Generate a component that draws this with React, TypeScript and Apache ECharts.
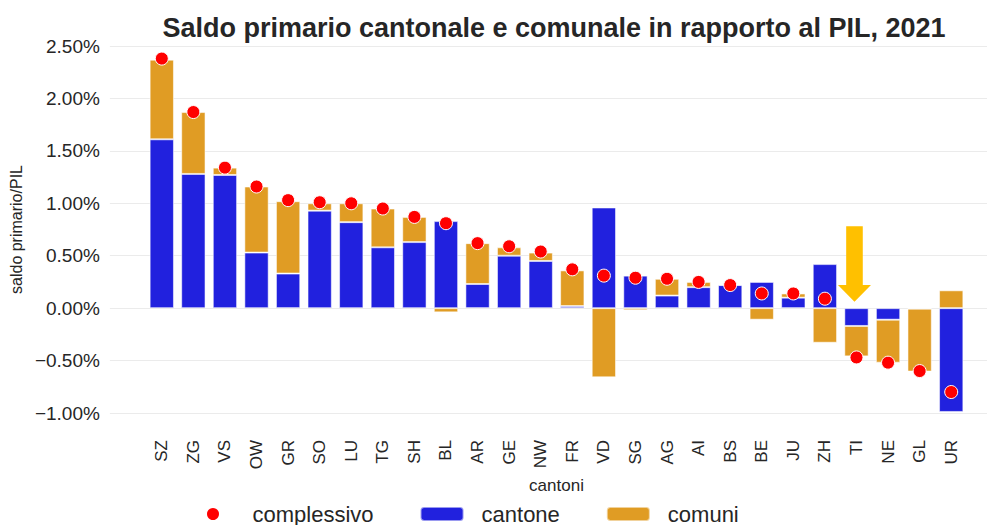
import React, { useEffect, useRef } from "react";
import * as echarts from "echarts";

const categories = ["SZ","ZG","VS","OW","GR","SO","LU","TG","SH","BL","AR","GE","NW","FR","VD","SG","AG","AI","BS","BE","JU","ZH","TI","NE","GL","UR"];
const cantone = [1.61,1.28,1.27,0.53,0.33,0.93,0.82,0.58,0.63,0.83,0.23,0.50,0.45,0.02,0.96,0.31,0.12,0.20,0.22,0.25,0.10,0.42,-0.17,-0.11,-0.005,-0.99];
const comuni = [0.76,0.59,0.07,0.63,0.69,0.07,0.18,0.37,0.24,-0.04,0.39,0.08,0.08,0.34,-0.66,-0.02,0.16,0.05,0.005,-0.11,0.04,-0.33,-0.29,-0.41,-0.60,0.17];
const complessivo = [2.38,1.87,1.34,1.16,1.03,1.01,1.00,0.95,0.87,0.81,0.62,0.59,0.54,0.37,0.31,0.29,0.28,0.25,0.22,0.14,0.14,0.09,-0.47,-0.52,-0.60,-0.80];

const yMin = -1.0;
const yMax = 2.5;
const yStep = 0.5;

// annotation arrow (data coordinates)
const arrowCanton = "TI";
const arrowTop = 0.78;
const arrowHeadBase = 0.22;
const arrowTip = 0.06;

const TEXT = "#262626";
const FONT = "Liberation Sans, Arial, sans-serif";

export default function App() {
  const ref = useRef<HTMLDivElement>(null);
  useEffect(() => {
    document.body.style.margin = "0";
    const chart = echarts.init(ref.current!, null, { renderer: "svg" });
    const fmt = (v: number) => (v < 0 ? "\u2212" : "") + Math.abs(v).toFixed(2) + "%";
    chart.setOption({
      animation: false,
      backgroundColor: "#ffffff",
      textStyle: { fontFamily: FONT },
      title: {
        text: "Saldo primario cantonale e comunale in rapporto al PIL, 2021",
        left: 549,
        textAlign: "center",
        top: 9,
        textStyle: { fontSize: 27, fontWeight: "bold", color: TEXT, fontFamily: FONT },
      },
      legend: {
        data: ["complessivo", "cantone", "comuni"],
        left: 205,
        top: 503,
        padding: 0,
        itemWidth: 43,
        itemHeight: 14,
        itemGap: 46,
        selectedMode: false,
        textStyle: { fontSize: 22, lineHeight: 22, color: TEXT, fontFamily: FONT, padding: [0, 0, 0, 13] },
      },
      grid: [
        { left: 108, right: 4, top: 46, bottom: 112 },
        { left: 146, right: 24, top: 46, bottom: 112 },
      ],
      xAxis: [
        { type: "value", gridIndex: 0, show: false, min: 0, max: 1 },
        {
          type: "category",
          gridIndex: 1,
          data: categories,
          axisLine: { show: false },
          axisTick: { show: false },
          axisLabel: { rotate: 90, fontSize: 17, color: TEXT, margin: 27, interval: 0, fontFamily: FONT },
          name: "cantoni",
          nameLocation: "middle",
          nameGap: 61,
          nameTextStyle: { fontSize: 17, color: TEXT, fontFamily: FONT },
        },
      ],
      yAxis: [
        {
          type: "value",
          gridIndex: 0,
          min: yMin,
          max: yMax,
          interval: yStep,
          axisLine: { show: false },
          axisTick: { show: false },
          axisLabel: { formatter: fmt, fontSize: 19, color: TEXT, margin: 10, fontFamily: FONT },
          splitLine: { show: true, lineStyle: { color: "#EBEBEB", width: 1 } },
          name: "saldo primario/PIL",
          nameLocation: "middle",
          nameGap: 78,
          nameTextStyle: { fontSize: 16, color: TEXT, fontFamily: FONT },
        },
        {
          type: "value",
          gridIndex: 1,
          min: yMin,
          max: yMax,
          interval: yStep,
          show: false,
          splitLine: { show: false },
        },
      ],
      series: [
        {
          name: "cantone",
          type: "bar",
          xAxisIndex: 1,
          yAxisIndex: 1,
          stack: "tot",
          data: cantone,
          barCategoryGap: "23%",
          itemStyle: { color: "#2121DE", borderColor: "rgba(255,255,255,0.55)", borderWidth: 1 },
        },
        {
          name: "comuni",
          type: "bar",
          xAxisIndex: 1,
          yAxisIndex: 1,
          stack: "tot",
          data: comuni,
          barCategoryGap: "23%",
          itemStyle: { color: "#E09C24", borderColor: "rgba(255,255,255,0.55)", borderWidth: 1 },
        },
        {
          name: "complessivo",
          type: "scatter",
          xAxisIndex: 1,
          yAxisIndex: 1,
          data: complessivo,
          symbol: "circle",
          symbolSize: 13,
          z: 5,
          itemStyle: { color: "#FF0000", borderColor: "#ffffff", borderWidth: 1, opacity: 1 },
        },
        {
          name: "arrow",
          type: "custom",
          xAxisIndex: 1,
          yAxisIndex: 1,
          z: 6,
          data: [[categories.indexOf(arrowCanton), arrowTop, arrowHeadBase, arrowTip]],
          encode: { x: 0, y: 1 },
          renderItem: (params: any, api: any) => {
            const i = api.value(0);
            const top = api.coord([i, api.value(1)]);
            const base = api.coord([i, api.value(2)]);
            const tip = api.coord([i, api.value(3)]);
            const x = top[0] - 2;
            const sw = 8.3;
            const hw = 16.5;
            return {
              type: "polygon",
              shape: {
                points: [
                  [x - sw, top[1]],
                  [x + sw, top[1]],
                  [x + sw, base[1]],
                  [x + hw, base[1]],
                  [x, tip[1]],
                  [x - hw, base[1]],
                  [x - sw, base[1]],
                ],
              },
              style: { fill: "#FFC000" },
            };
          },
        },
      ],
    });
    return () => chart.dispose();
  }, []);
  return <div ref={ref} style={{ position: "absolute", left: 0, top: 0, width: 991, height: 525 }} />;
}
